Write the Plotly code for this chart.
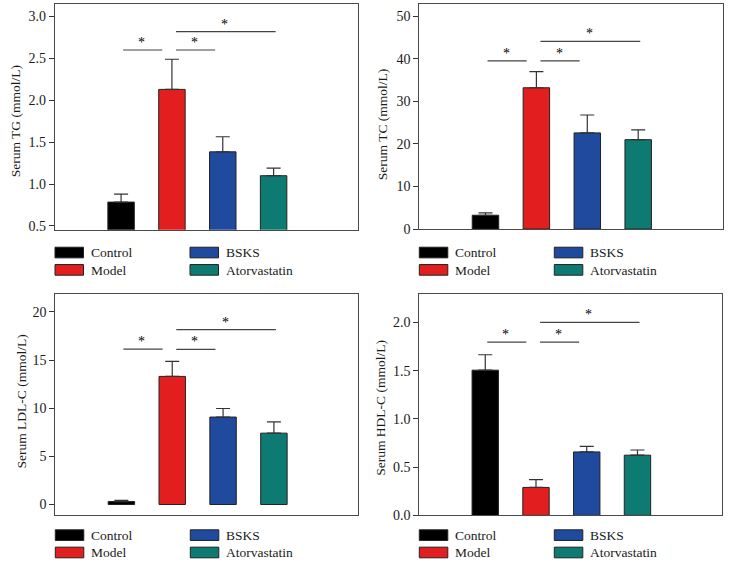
import plotly.graph_objects as go
from plotly.subplots import make_subplots

W, H = 730, 574

groups = ["Control", "Model", "BSKS", "Atorvastatin"]
colors = ["#000000", "#E31E1E", "#1F4A9E", "#0E7B72"]

tg_mean = [0.785, 2.13, 1.385, 1.10]
tg_err = [0.095, 0.36, 0.18, 0.09]
tc_mean = [3.25, 33.2, 22.6, 21.0]
tc_err = [0.55, 3.8, 4.2, 2.3]
ldl_mean = [0.31, 13.3, 9.08, 7.41]
ldl_err = [0.13, 1.55, 0.89, 1.16]
hdl_mean = [1.505, 0.29, 0.658, 0.624]
hdl_err = [0.16, 0.08, 0.058, 0.054]

# significance bracket heights
tg_sig = [2.60, 2.60, 2.82]
tc_sig = [39.5, 39.5, 44.1]
ldl_sig = [16.14, 16.1, 18.16]
hdl_sig = [1.796, 1.796, 2.0]
sig_pairs = [(0.04, 0.81), (1.08, 1.85), (1.08, 3.04)]

titles = ["Serum TG (mmol/L)", "Serum TC (mmol/L)",
          "Serum LDL-C (mmol/L)", "Serum HDL-C (mmol/L)"]
yranges = [[0.455, 3.15], [0, 52.9], [-1.09, 21.9], [0, 2.293]]
ytickvals = [[0.5, 1.0, 1.5, 2.0, 2.5, 3.0], [0, 10, 20, 30, 40, 50],
             [0, 5, 10, 15, 20], [0, 0.5, 1.0, 1.5, 2.0]]
ytickfmt = [".1f", "d", "d", ".1f"]

means = [tg_mean, tc_mean, ldl_mean, hdl_mean]
errs = [tg_err, tc_err, ldl_err, hdl_err]
sigs = [tg_sig, tc_sig, ldl_sig, hdl_sig]

# panel boxes in pixels: left, right, top, bottom
boxes = [(55, 358, 4, 233), (419.3, 722.7, 4, 232.3),
         (55.3, 358.3, 297.7, 522.3), (419.3, 721.7, 298.3, 522.7)]
title_pos = [(15, 123), (382, 126), (21.7, 407.5), (381, 413.6)]
legend_top = [250.7, 250.7, 537.3, 537.3]

SERIF = "Liberation Serif"

fig = make_subplots(rows=2, cols=2)
xs = [0, 1, 2, 3]

def px(x):
    return x / W

def py(y):
    return 1 - y / H

shapes = []
annotations = []
for i in range(4):
    r, c = i // 2 + 1, i % 2 + 1
    fig.add_trace(go.Bar(
        x=xs, y=means[i], width=0.52,
        marker=dict(color=colors, line=dict(color="#222222", width=1)),
        error_y=dict(type="data", array=errs[i], arrayminus=[0] * 4,
                     symmetric=False, color="#333333", thickness=1.2, width=7),
        showlegend=False, hoverinfo="skip"), row=r, col=c)
    L, R, T, B = boxes[i]
    ax = "" if i == 0 else str(i + 1)
    fig.layout["xaxis" + ax].update(
        domain=[px(L), px(R)], range=[-1.3, 4.66], showticklabels=False,
        ticks="", showgrid=False, zeroline=False, showline=True,
        linecolor="#4a4a4a", linewidth=1.2, mirror=True, fixedrange=True)
    fig.layout["yaxis" + ax].update(
        domain=[py(B), py(T)], range=yranges[i], tickvals=ytickvals[i],
        tickformat=ytickfmt[i], ticks="outside", ticklen=5, tickcolor="#333333",
        showgrid=False, zeroline=False, showline=True, linecolor="#4a4a4a",
        linewidth=1.2, mirror=True, fixedrange=True,
        tickfont=dict(family=SERIF, size=14, color="#1a1a1a"))
    xr = "x" + ax
    yr = "y" + ax
    for (x0, x1), h in zip(sig_pairs, sigs[i]):
        shapes.append(dict(type="line", xref=xr, yref=yr, x0=x0, x1=x1,
                           y0=h, y1=h, line=dict(color="#444444", width=1.2)))
        annotations.append(dict(xref=xr, yref=yr, x=(x0 + x1) / 2 - 0.02, y=h,
                                text="*", showarrow=False, yanchor="bottom",
                                yshift=-2,
                                font=dict(family=SERIF, size=14, color="#000000")))
    tx, ty = title_pos[i]
    annotations.append(dict(xref="paper", yref="paper", x=px(tx), y=py(ty),
                            text=titles[i], textangle=-90, showarrow=False,
                            xanchor="center", yanchor="middle",
                            font=dict(family=SERIF, size=13.5, color="#1a1a1a")))
    # legend
    lt = legend_top[i]
    for k, g in enumerate(groups):
        colk = k // 2
        rowk = k % 2
        sx0 = L + colk * 135
        sy0 = lt + rowk * 17.6
        shapes.append(dict(type="rect", xref="paper", yref="paper",
                           x0=px(sx0), x1=px(sx0 + 28.5),
                           y0=py(sy0 + 10.8), y1=py(sy0),
                           fillcolor=colors[k],
                           line=dict(color="#222222", width=1)))
        annotations.append(dict(xref="paper", yref="paper",
                                x=px(sx0 + 34), y=py(sy0 + 5.6), text=g,
                                showarrow=False, xanchor="left",
                                yanchor="middle",
                                font=dict(family=SERIF, size=13.5,
                                          color="#1a1a1a")))

fig.update_layout(width=W, height=H, margin=dict(l=0, r=0, t=0, b=0),
                  plot_bgcolor="white", paper_bgcolor="white",
                  shapes=shapes, annotations=annotations, bargap=0.5)
fig.write_html("out.html", config={"displayModeBar": False},
               post_script="document.body.style.margin='0px';")
